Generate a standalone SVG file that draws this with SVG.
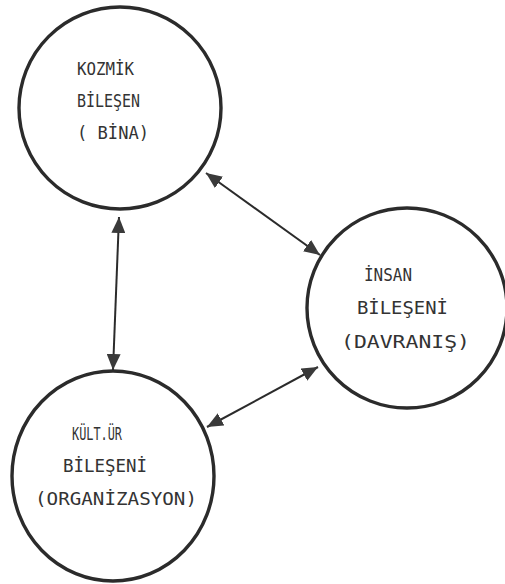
<svg xmlns="http://www.w3.org/2000/svg" width="505" height="584" viewBox="0 0 505 584">
<style>
.node{fill:none;stroke:#2b2b2b;stroke-width:3.4}
.lbl{font-family:"DejaVu Sans Mono","Liberation Mono",monospace;font-size:18px;fill:#333}
.conn{stroke:#2b2b2b;stroke-width:2;fill:none;marker-start:url(#ah);marker-end:url(#ah)}
</style>
<defs>
<marker id="ah" viewBox="0 0 16 14" refX="16" refY="7" markerWidth="16" markerHeight="14" markerUnits="userSpaceOnUse" orient="auto-start-reverse">
<path d="M0,0 L16,7 L0,14 z" fill="#3a3a3a"/>
</marker>
</defs>
<rect width="505" height="584" fill="#fff"/>
<g id="connectors">
<line class="conn" x1="119" y1="217" x2="113" y2="370"/>
<line class="conn" x1="206" y1="173" x2="320" y2="255"/>
<line class="conn" x1="318" y1="367" x2="207" y2="427"/>
</g>
<g id="kozmik">
<circle class="node" cx="120" cy="108" r="101"/>
<text class="lbl" x="77" y="75" textLength="57" lengthAdjust="spacingAndGlyphs">KOZMİK</text>
<text class="lbl" x="77" y="107" textLength="63" lengthAdjust="spacingAndGlyphs">BİLEŞEN</text>
<text class="lbl" x="77" y="139" textLength="72" lengthAdjust="spacingAndGlyphs">( BİNA)</text>
</g>
<g id="insan">
<circle class="node" cx="407" cy="308" r="100"/>
<text class="lbl" x="364" y="281" textLength="48" lengthAdjust="spacingAndGlyphs">İNSAN</text>
<text class="lbl" x="357" y="314" textLength="91" lengthAdjust="spacingAndGlyphs">BİLEŞENİ</text>
<text class="lbl" x="341" y="348" textLength="129" lengthAdjust="spacingAndGlyphs">(DAVRANIŞ)</text>
</g>
<g id="kultur">
<ellipse class="node" cx="113" cy="476" rx="101" ry="105"/>
<text class="lbl" x="72" y="440" textLength="50" lengthAdjust="spacingAndGlyphs">KÜLT.ÜR</text>
<text class="lbl" x="63" y="472" textLength="84" lengthAdjust="spacingAndGlyphs">BİLEŞENİ</text>
<text class="lbl" x="35" y="505" textLength="162" lengthAdjust="spacingAndGlyphs">(ORGANİZASYON)</text>
</g>
</svg>
